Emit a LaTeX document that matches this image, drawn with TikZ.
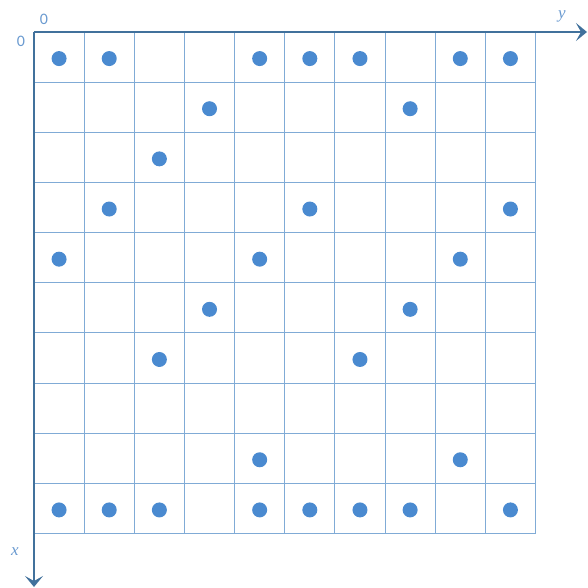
\documentclass[tikz,border=0pt]{standalone}
\usepackage{fontspec}
\setmainfont{Carlito}
\newfontfamily\lblserif{Liberation Serif}
\usetikzlibrary{arrows.meta}
\definecolor{gridc}{HTML}{80ABD6}
\definecolor{axisc}{HTML}{41719C}
\definecolor{dotc}{HTML}{4A8AD0}
\definecolor{labc}{HTML}{6A9AD0}
\tikzset{
  gridline/.style={draw=gridc, line width=1pt},
  axisline/.style={draw=axisc, line width=2.8pt, -{Stealth[length=11pt,width=18pt,inset=5pt]}},
  dot/.style={circle, fill=dotc, minimum size=15pt, inner sep=0pt},
  lab/.style={text=labc, font=\fontsize{16}{16}\selectfont, inner sep=0pt},
  vlab/.style={text=labc, font=\lblserif\itshape\fontsize{17}{17}\selectfont, inner sep=0pt}
}
\begin{document}
\begin{tikzpicture}[x=1pt,y=-1pt]
\useasboundingbox (0,0) rectangle (587,588);
\def\cs{50.15}
% grid
\foreach \i in {0,...,10}{
  \draw[gridline] (34+\i*\cs,32) -- (34+\i*\cs,32+10*\cs);
  \draw[gridline] (34,32+\i*\cs) -- (34+10*\cs,32+\i*\cs);
}
% axes
\coordinate (O) at (34,32);
\coordinate (Y) at (587,32);
\coordinate (X) at (34,587);
\draw[axisline] (O) -- (Y);
\draw[axisline] (O) -- (X);
% labels
\node[lab] (z1) at (44,19) {0};
\node[lab] (z2) at (21,41) {0};
\node[vlab] (ly) at (562,16) {y};
\node[vlab] (lx) at (15,552) {x};
% dots (row/col)
\foreach \r/\c in {0/0,0/1,0/4,0/5,0/6,0/8,0/9,
                   1/3,1/7,
                   2/2,
                   3/1,3/5,3/9,
                   4/0,4/4,4/8,
                   5/3,5/7,
                   6/2,6/6,
                   8/4,8/8,
                   9/0,9/1,9/2,9/4,9/5,9/6,9/7,9/9}{
  \node[dot] (d\r\c) at (34+\cs*\c+0.5*\cs, 32+\cs*\r+0.5*\cs+1.5) {};
}
\end{tikzpicture}
\end{document}
